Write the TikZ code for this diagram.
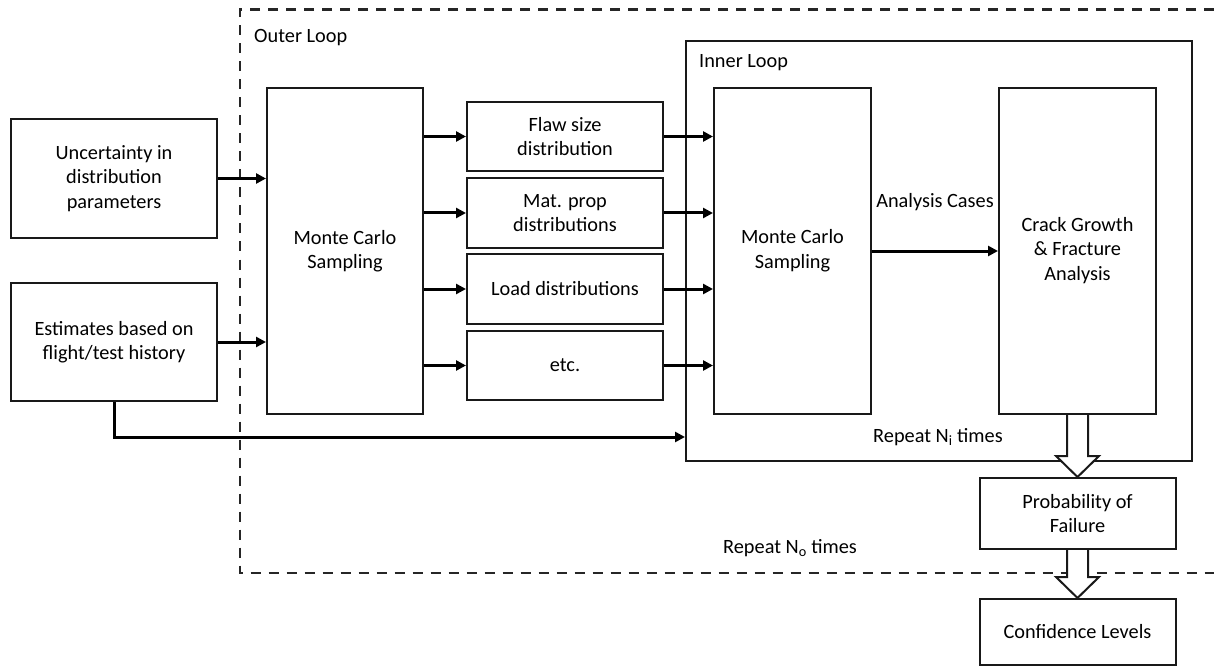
\documentclass[tikz,border=0pt]{standalone}
\usepackage{fontspec}
\setmainfont{Carlito}
\usetikzlibrary{arrows.meta,calc}
\begin{document}
\begin{tikzpicture}[x=1pt,y=-1pt,
 box/.style={draw=black!90,line width=2pt,align=center,inner sep=0pt,font=\fontsize{20.3}{24.5}\selectfont,text=black},
 arr/.style={line width=3pt,-{Triangle[length=10pt,width=10pt]}},
 lbl/.style={inner sep=0pt,font=\fontsize{20.3}{24.5}\selectfont,text=black},
 hollow/.style={draw=black!90,line width=2pt,fill=white,line join=miter},
 loopdash/.style={draw=black!85,line width=2.2pt,dash pattern=on 10pt off 8pt}]
\useasboundingbox (0,0) rectangle (1214,668);

% outer loop (dashed, open on the right)
\draw[loopdash] (1214,9.5) -- (240,9.5) -- (240,573) -- (1214,573);

% inner loop
\node[box,minimum width=506,minimum height=420] (inner) at (939,251) {};

% boxes
\node[box,minimum width=206,minimum height=119] (unc) at (114,178.5) {Uncertainty in\\distribution\\parameters};
\node[box,minimum width=206,minimum height=118] (est) at (114,342) {Estimates based on\\flight/test history};
\node[box,minimum width=156,minimum height=326] (mc1) at (345,251) {Monte Carlo\\Sampling};
\node[box,minimum width=196,minimum height=69] (flaw) at (565,136.5) {Flaw size\\distribution};
\node[box,minimum width=196,minimum height=70] (mat) at (565,213) {Mat. prop\\distributions};
\node[box,minimum width=196,minimum height=70] (load) at (565,289) {Load distributions};
\node[box,minimum width=196,minimum height=69] (etc) at (565,365.5) {etc.};
\node[box,minimum width=157,minimum height=326] (mc2) at (792.5,251) {\raisebox{-5pt}{\begin{tabular}{@{}c@{}}Monte Carlo\\Sampling\end{tabular}}};
\node[box,minimum width=157,minimum height=326] (crack) at (1077.5,251) {\raisebox{-5pt}{\begin{tabular}{@{}c@{}}Crack Growth\\\& Fracture\\Analysis\end{tabular}}};
\node[box,minimum width=196,minimum height=71] (prob) at (1077.5,513.5) {Probability of\\Failure};
\node[box,minimum width=196,minimum height=66] (conf) at (1077.5,632) {Confidence Levels};

% labels
\node[lbl,anchor=base west] (outerlbl) at (254,43) {Outer Loop};
\node[lbl,anchor=base west] (innerlbl) at (699,68) {Inner Loop};
\node[lbl,anchor=base] (ac) at (935,208) {Analysis Cases};
\node[lbl,anchor=base west] (rni) at (873,442) {Repeat N\textsubscript{i} times};
\node[lbl,anchor=base west] (rno) at (723,553) {Repeat N\textsubscript{o} times};

% connectors
\draw[arr] (unc.east) -- (unc.east -| mc1.west);
\draw[arr] (est.east) -- (est.east -| mc1.west);
\foreach \n in {flaw,mat,load,etc}{
  \draw[arr] (mc1.east |- \n.west) -- (\n.west);
  \draw[arr] (\n.east) -- (\n.east -| mc2.west);
}
\draw[arr] (mc2.east) -- (crack.west);
\coordinate (yfb) at (0,437);
\draw[arr] (est.south) |- (inner.west |- yfb);

% hollow arrows
\draw[hollow] ($(crack.south)+(-10.5,0)$) -- ($(prob.north)+(-10.5,-21)$) -- ($(prob.north)+(-21.5,-21)$) -- (prob.north) -- ($(prob.north)+(21.5,-21)$) -- ($(prob.north)+(10.5,-21)$) -- ($(crack.south)+(10.5,0)$);
\draw[hollow] ($(prob.south)+(-10.5,0)$) -- ($(conf.north)+(-10.5,-21)$) -- ($(conf.north)+(-21.5,-21)$) -- (conf.north) -- ($(conf.north)+(21.5,-21)$) -- ($(conf.north)+(10.5,-21)$) -- ($(prob.south)+(10.5,0)$);
\end{tikzpicture}
\end{document}
